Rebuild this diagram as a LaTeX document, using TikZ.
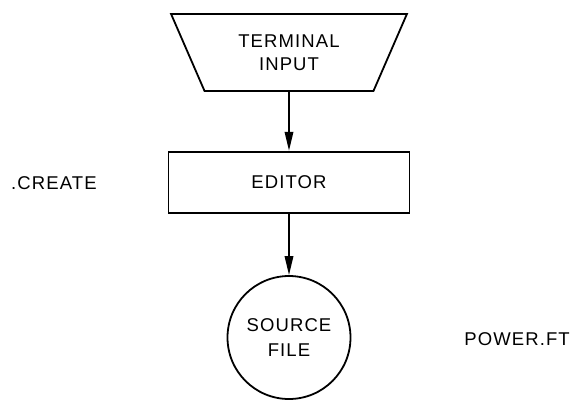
\documentclass[tikz,border=0pt]{standalone}
\usepackage{fontspec}
\newfontfamily\lblfont[LetterSpace=6]{Liberation Sans}
\usetikzlibrary{shapes.geometric,arrows.meta}

\tikzset{
  lbl/.style={font=\lblfont\fontsize{18.5}{23}\selectfont, align=center, inner sep=0pt},
  outline/.style={draw=black, line width=1.8pt},
  flow/.style={draw=black, line width=1.8pt, -{Triangle[length=19pt,width=8.5pt]}},
  inputbox/.style={lbl, outline, trapezium, trapezium left angle=119.2,
    trapezium right angle=119.2, trapezium stretches=true,
    minimum width=236pt, minimum height=77pt},
  procbox/.style={lbl, outline, rectangle, minimum width=241pt, minimum height=61.6pt},
  filebox/.style={lbl, outline, circle, minimum size=123pt,
    font=\lblfont\fontsize{18.5}{25.5}\selectfont}
}

\begin{document}
\begin{tikzpicture}[x=1pt, y=-1pt]
  \useasboundingbox (0,0) rectangle (570,400);

  \node[inputbox] (term) at (289,52.5)  {TERMINAL\\INPUT};
  \node[procbox]  (edit) at (289,182.5) {EDITOR};
  \node[filebox]  (src)  at (289,337.5) {SOURCE\\FILE};

  \node[lbl, anchor=west] (create) at (11,183)  {.CREATE};
  \node[lbl, anchor=east] (power)  at (570,339) {POWER.FT};

  \draw[flow] (term.bottom side) -- (edit.north);
  \draw[flow] (edit.south) -- (src.north);
\end{tikzpicture}
\end{document}
